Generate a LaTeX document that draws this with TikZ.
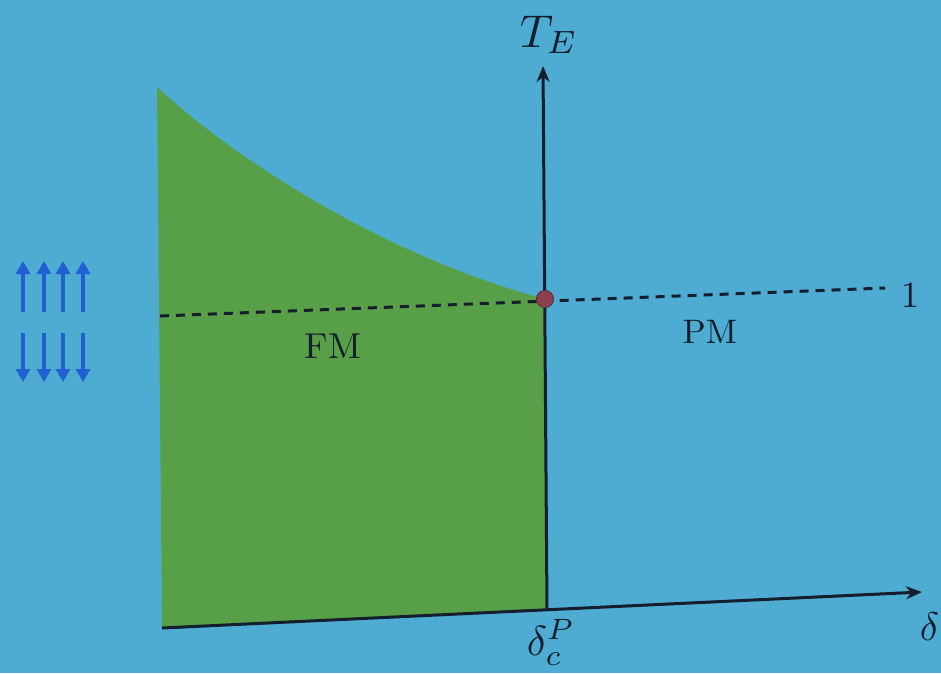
\documentclass[tikz,border=0pt]{standalone}
\usetikzlibrary{arrows.meta}
\definecolor{bgblue}{RGB}{78,172,210}
\definecolor{fmgreen}{RGB}{88,160,72}
\definecolor{spinblue}{RGB}{32,96,210}
\definecolor{axiscol}{RGB}{20,30,45}
\definecolor{dotcol}{RGB}{140,64,80}
\tikzset{
  axisline/.style={line width=3pt, draw=axiscol},
  axisarrow/.style={axisline, -{Stealth[length=16pt,width=13pt]}},
  dashline/.style={line width=3pt, draw=axiscol, dash pattern=on 9pt off 7pt},
  spin/.style={line width=4.5pt, draw=spinblue, -{Triangle[length=13pt,width=14pt]}},
  lbl/.style={text=axiscol, inner sep=0pt, anchor=base west},
}
\begin{document}
\begin{tikzpicture}[x=1pt,y=-1pt]
\fill[bgblue] (0,0) rectangle (941,673);
\useasboundingbox (0,0) rectangle (941,673);
% key points
\coordinate (curvetop) at (157,87);
\coordinate (crit) at (545,299);
\coordinate (vbot) at (547,610);
\coordinate (vtop) at (543,66);
\coordinate (hleft) at (162,628);
\coordinate (hright) at (922,592);
\coordinate (dleft) at (160,316);
\coordinate (dright) at (885,288);
% FM region
\fill[fmgreen] (curvetop) .. controls (230,155) and (380,255) .. (crit) -- (vbot) -- (hleft) -- cycle;
% axes
\draw[axisarrow] (hleft) -- (hright);
\draw[axisarrow] (vbot) -- (vtop);
% dashed T_E = 1 line
\draw[dashline] (dleft) -- (dright);
% critical point
\node[circle, fill=dotcol, draw=dotcol!70!black, line width=1pt, minimum size=17pt, inner sep=0pt] (dot) at (crit) {};
% labels
\node[lbl, scale=4.6] (te) at (519,47) {$T_E$};
\node[lbl, scale=3.7] (one) at (900,307) {$1$};
\node[lbl, scale=4.0] (delta) at (919,640) {$\delta$};
\node[lbl, scale=4.2] (dcp) at (526,655) {$\delta_c^P$};
\node[lbl, scale=3.6] (fm) at (304,358) {FM};
\node[lbl, scale=3.4] (pm) at (682,343) {PM};
% spins
\foreach \i/\x in {1/23,2/44,3/63,4/83}{
  \coordinate (ub\i) at (\x,312);
  \coordinate (ut\i) at (\x,261);
  \coordinate (dt\i) at (\x,333);
  \coordinate (db\i) at (\x,382);
  \draw[spin] (ub\i) -- (ut\i);
  \draw[spin] (dt\i) -- (db\i);
}
\end{tikzpicture}
\end{document}
